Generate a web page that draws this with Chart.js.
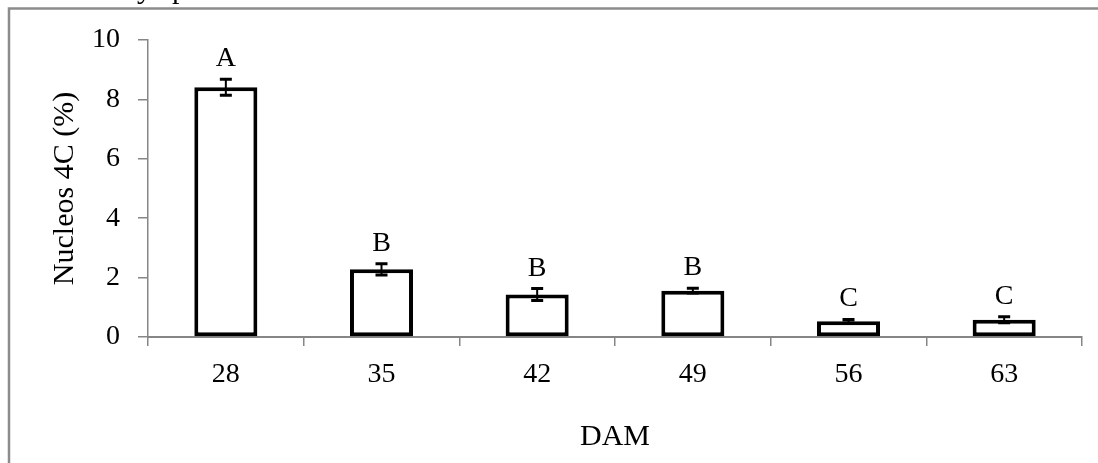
<!DOCTYPE html>
<html>
<head>
<meta charset="utf-8">
<script src="https://cdn.jsdelivr.net/npm/chart.js@4"></script>
<style>
  html, body { margin: 0; padding: 0; background: #fff; }
  #wrap { width: 1098px; height: 463px; }
</style>
</head>
<body>
<div id="wrap"><canvas id="chart" width="1098" height="463"></canvas></div>
<script>
// ======== datos ========
const days = ['28', '35', '42', '49', '56', '63'];
const nucleos4C = [8.41, 2.28, 1.43, 1.56, 0.53, 0.58];
const errores = [0.27, 0.19, 0.2, 0.08, 0.06, 0.1];
const letras = ['A', 'B', 'B', 'B', 'C', 'C'];
const yTicks = [0, 2, 4, 6, 8, 10];

const FONT = 'Liberation Serif';
const GRIS = '#868686';

// marco gris y texto cortado arriba
const marco = {
    id: 'marco',
    beforeDraw(chart) {
        const ctx = chart.ctx;
        ctx.save();
        ctx.fillStyle = '#fff';
        ctx.fillRect(0, 0, chart.width, chart.height);
        ctx.strokeStyle = '#8c8c8c';
        ctx.lineWidth = 2.5;
        ctx.beginPath();
        ctx.moveTo(9, chart.height);
        ctx.lineTo(9, 8.5);
        ctx.lineTo(chart.width, 8.5);
        ctx.stroke();
        // linea de texto cortada por arriba
        ctx.fillStyle = '#000';
        ctx.font = '30px "' + FONT + '"';
        ctx.textBaseline = 'alphabetic';
        ctx.fillText('y', 137, -2);
        ctx.fillText('p', 172, -2);
        ctx.restore();
    }
};

// barras de error y letras
const errorYLetras = {
    id: 'errorYLetras',
    afterDatasetsDraw(chart) {
        const ctx = chart.ctx;
        const x = chart.scales.x;
        const y = chart.scales.y;
        ctx.save();
        ctx.strokeStyle = '#000';
        nucleos4C.forEach((v, i) => {
            const px = x.getPixelForValue(i);
            const top = y.getPixelForValue(v + errores[i]);
            const bot = y.getPixelForValue(v - errores[i]);
            ctx.lineWidth = 2;
            ctx.beginPath();
            ctx.moveTo(px, top);
            ctx.lineTo(px, bot);
            ctx.stroke();
            ctx.lineWidth = 3;
            ctx.beginPath();
            ctx.moveTo(px - 6, top);
            ctx.lineTo(px + 6, top);
            ctx.moveTo(px - 6, bot);
            ctx.lineTo(px + 6, bot);
            ctx.stroke();

            ctx.fillStyle = '#000';
            ctx.font = '28px "' + FONT + '"';
            ctx.textAlign = 'center';
            ctx.textBaseline = 'alphabetic';
            ctx.fillText(letras[i], px, top - 13);
        });
        ctx.restore();
    }
};

new Chart(document.getElementById('chart'), {
    type: 'bar',
    data: {
        labels: days,
        datasets: [{
            data: nucleos4C,
            backgroundColor: '#fff',
            borderColor: '#000',
            borderWidth: 4,
            borderSkipped: false,
            barPercentage: 0.405,
            categoryPercentage: 1
        }]
    },
    options: {
        responsive: false,
        animation: false,
        layout: { padding: { left: 10, right: 16, top: 40, bottom: 0 } },
        plugins: {
            legend: { display: false },
            tooltip: { enabled: false }
        },
        scales: {
            x: {
                z: 1,
                afterFit(s) { s.height = 126; },
                border: { display: true, color: GRIS, width: 2 },
                grid: {
                    offset: true,
                    drawOnChartArea: false,
                    drawTicks: true,
                    tickLength: 9,
                    color: GRIS,
                    lineWidth: 1.5
                },
                ticks: {
                    color: '#000',
                    padding: 12,
                    font: { family: FONT, size: 28 }
                },
                title: {
                    display: true,
                    text: 'DAM',
                    color: '#000',
                    padding: { top: 0, bottom: 8 },
                    font: { family: FONT, size: 30 }
                }
            },
            y: {
                min: 0,
                max: 10,
                afterFit(s) { s.width = 138; },
                afterBuildTicks(s) { s.ticks = yTicks.map(v => ({ value: v })); },
                border: { display: true, color: GRIS, width: 1.5 },
                grid: {
                    drawOnChartArea: false,
                    drawTicks: true,
                    tickLength: 10,
                    color: GRIS,
                    lineWidth: 1.5
                },
                ticks: {
                    color: '#000',
                    padding: 18,
                    font: { family: FONT, size: 28 }
                },
                title: {
                    display: true,
                    text: 'Nucleos 4C (%)',
                    color: '#000',
                    padding: { top: 37, bottom: 0 },
                    font: { family: FONT, size: 30 }
                }
            }
        }
    },
    plugins: [marco, errorYLetras]
});
</script>
</body>
</html>
